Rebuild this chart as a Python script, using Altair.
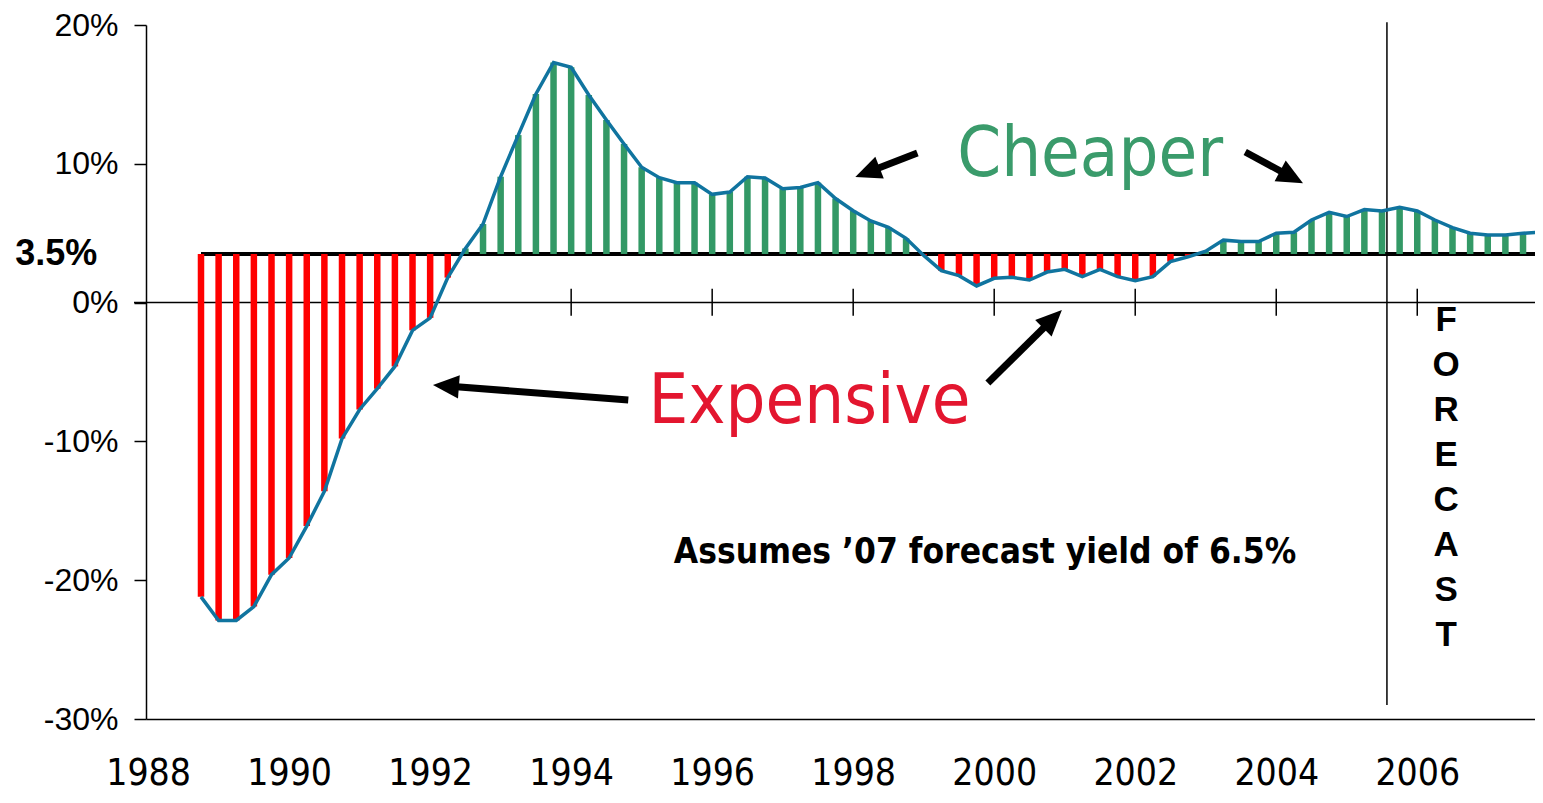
import math
import altair as alt
import pandas as pd

# ---------------- data ----------------
quarters = [1988.75 + 0.25 * i for i in range(77)]
spread = [
    -21.2, -22.9, -22.9, -21.9, -19.6, -18.4, -16.1, -13.6, -9.8, -7.7,
    -6.2, -4.6, -2.0, -1.1, 1.8, 3.9, 5.66, 9.07, 12.07, 15.03,
    17.3, 16.95, 14.96, 13.16, 11.43, 9.75, 9.0, 8.64, 8.64, 7.8,
    7.97, 9.07, 8.98, 8.21, 8.3, 8.64, 7.5, 6.62, 5.88, 5.42,
    4.63, 3.4, 2.3, 1.94, 1.2, 1.75, 1.82, 1.63, 2.2, 2.4,
    1.87, 2.4, 1.87, 1.58, 1.87, 2.95, 3.3, 3.7, 4.5, 4.4,
    4.4, 5.0, 5.07, 5.95, 6.5, 6.2, 6.7, 6.6, 6.87, 6.6,
    5.95, 5.4, 5.0, 4.87, 4.87, 5.0, 5.07,
]
BASE = 3.5
x_tick_labels = [1988, 1990, 1992, 1994, 1996, 1998, 2000, 2002, 2004, 2006]
zero_line_ticks = [1990, 1992, 1994, 1996, 1998, 2000, 2002, 2004, 2006]
y_ticks = [-30, -20, -10, 0, 10, 20]
forecast_start = 2005.57

# arrows: tail -> tip, in data units (year, %)
arrow_tail_x = [1994.81, 1999.91, 1998.91, 2003.56]
arrow_tail_y = [-7.02, -5.79, 10.78, 10.85]
arrow_tip_x = [1992.04, 2000.96, 1998.03, 2004.38]
arrow_tip_y = [-5.93, -0.53, 9.05, 8.60]

# ---------------- layout ----------------
X_DOMAIN = [1987.97, 2007.67]
Y_DOMAIN = [-30, 20]
W, H = 1389, 694
PX_X = W / (X_DOMAIN[1] - X_DOMAIN[0])
PX_Y = H / (Y_DOMAIN[1] - Y_DOMAIN[0])

df = pd.DataFrame({"q": quarters, "v": spread})
df["base"] = BASE

xs = alt.Scale(domain=X_DOMAIN, nice=False, zero=False)
ys = alt.Scale(domain=Y_DOMAIN, nice=False, zero=False)

COND = "DejaVu Sans Condensed, sans-serif"
SANS = "Liberation Sans, Arial, sans-serif"

x_axis = alt.Axis(values=x_tick_labels, format="d", ticks=False, grid=False,
                  domainColor="black", domainWidth=1.5, labelFont=COND,
                  labelFontSize=37, labelColor="black", labelPadding=36,
                  labelFlush=False, labelOverlap=False, title=None)
y_axis = alt.Axis(values=y_ticks, labelExpr="datum.value + '%'", grid=False,
                  domainColor="black", domainWidth=1.5, tickColor="black",
                  tickWidth=1.5, tickSize=12, labelFont=SANS, labelFontSize=32,
                  labelColor="black", labelPadding=16, labelFlush=False,
                  title=None)


def X(f):
    return alt.X(f, scale=xs, axis=x_axis)


def Y(f):
    return alt.Y(f, scale=ys, axis=y_axis)


# zero line
zero_df = pd.DataFrame({"x": [X_DOMAIN[0] - 12 / PX_X], "x2": [X_DOMAIN[1]], "y": [0]})
zero_line = alt.Chart(zero_df).mark_rule(color="black", strokeWidth=1.5, clip=False).encode(
    x=X("x:Q"), x2="x2:Q", y=Y("y:Q"),
)

zt_df = pd.DataFrame({"x": zero_line_ticks, "y": [1.0] * len(zero_line_ticks),
                      "y2": [-0.95] * len(zero_line_ticks)})
zero_ticks = alt.Chart(zt_df).mark_rule(color="black", strokeWidth=1.5).encode(
    x=X("x:Q"), y=Y("y:Q"), y2="y2:Q",
)

# forecast divider
fc_df = pd.DataFrame({"x": [forecast_start], "y": [20.2], "y2": [-29]})
forecast_line = alt.Chart(fc_df).mark_rule(color="black", strokeWidth=1.5, clip=False).encode(
    x=X("x:Q"), y=Y("y:Q"), y2="y2:Q",
)

# 3.5% base line
bl_df = pd.DataFrame({"x": [quarters[0]], "x2": [X_DOMAIN[1]], "y": [BASE]})
base_line = alt.Chart(bl_df).mark_rule(color="black", strokeWidth=4).encode(
    x=X("x:Q"), x2="x2:Q", y=Y("y:Q"),
)

bars = alt.Chart(df).mark_rule(strokeWidth=6.5, strokeCap="butt", clip=True).encode(
    x=X("q:Q"), y=Y("base:Q"), y2="v:Q",
    color=alt.condition(alt.datum.v < BASE, alt.value("#ff0000"), alt.value("#339966")),
)

line = alt.Chart(df).mark_line(color="#10749f", strokeWidth=3.5, clip=True).encode(
    x=X("q:Q"), y=Y("v:Q"),
)


# ---------------- annotations ----------------
def text_layer(txt, x, y, **kw):
    d = pd.DataFrame({"x": [x], "y": [y], "t": [txt]})
    return alt.Chart(d).mark_text(**kw).encode(x=X("x:Q"), y=Y("y:Q"), text="t:N")


lbl_base = text_layer("3.5%", 1987.28, BASE, font=SANS, fontSize=36, fontWeight="bold",
                      align="right", baseline="middle", color="black")
lbl_cheap = text_layer("Cheaper", 2001.36, 10.6, font=COND, fontSize=70,
                       align="center", baseline="middle", color="#3a9b6b")
lbl_exp = text_layer("Expensive", 1997.38, -7.16, font=COND, fontSize=70,
                     align="center", baseline="middle", color="#e3162f")
lbl_assume = text_layer("Assumes \u201907 forecast yield of 6.5%", 1999.87, -17.97,
                        font=COND, fontSize=35, fontWeight="bold",
                        align="center", baseline="middle", color="black")
lbl_fc = text_layer("F\nO\nR\nE\nC\nA\nS\nT", 2006.41, -1.25, font=SANS, fontSize=35,
                    fontWeight="bold", lineBreak="\n", lineHeight=45,
                    align="center", baseline="middle", color="black")

# arrows
rows = []
HEAD_LEN = 26
for tx, ty, hx, hy in zip(arrow_tail_x, arrow_tail_y, arrow_tip_x, arrow_tip_y):
    dx = (hx - tx) * PX_X
    dy = -(hy - ty) * PX_Y
    L = math.hypot(dx, dy)
    ang = math.degrees(math.atan2(dx, -dy)) % 360
    back = 14 / L
    ex = hx - (hx - tx) * back
    ey = hy - (hy - ty) * back
    rows.append({"tx": tx, "ty": ty, "ex": ex, "ey": ey, "hx": hx, "hy": hy, "ang": ang})
adf = pd.DataFrame(rows)

shafts = alt.Chart(adf).mark_rule(color="black", strokeWidth=7).encode(
    x=X("tx:Q"), y=Y("ty:Q"), x2="ex:Q", y2="ey:Q",
)
heads = alt.Chart(adf).mark_point(shape="M0,0L0.9,2L-0.9,2Z", filled=True, color="black",
                                  opacity=1, size=HEAD_LEN * HEAD_LEN).encode(
    x=X("hx:Q"), y=Y("hy:Q"), angle=alt.Angle("ang:Q", scale=None),
)

chart = alt.layer(
    zero_line, zero_ticks, forecast_line, base_line, bars, line,
    lbl_base, lbl_cheap, lbl_exp, lbl_assume, lbl_fc, shafts, heads,
).properties(
    width=W, height=H,
    padding={"left": 138, "top": 17, "right": 0, "bottom": 76},
    autosize=alt.AutoSizeParams(type="none"),
    background="white",
).configure_view(stroke=None)

chart.save("out.html", embed_options={"renderer": "svg", "actions": False})
